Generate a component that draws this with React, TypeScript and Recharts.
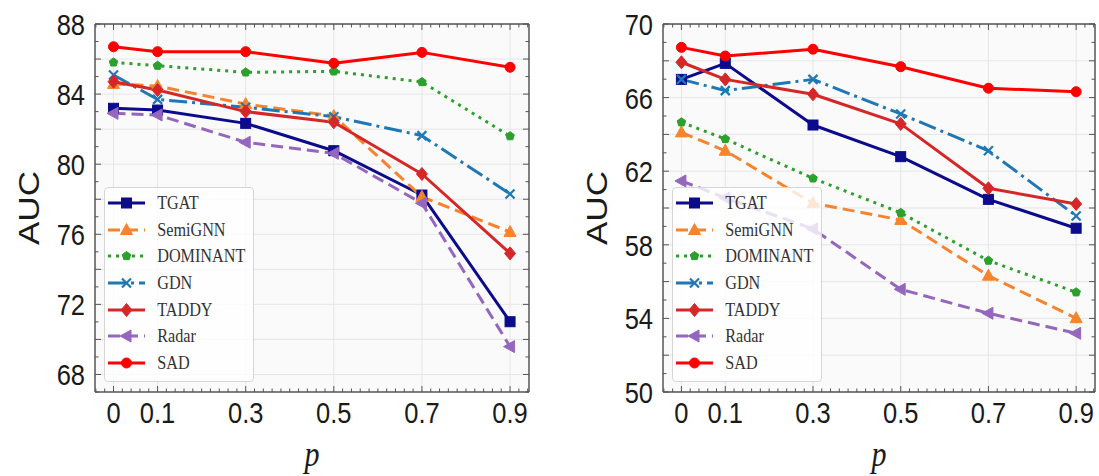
import React from 'react';
import { LineChart, Line, XAxis, YAxis, CartesianGrid, Legend } from 'recharts';

// ---------- data ----------
const pValues = [0, 0.1, 0.3, 0.5, 0.7, 0.9];
const xTickLabels = ['0', '0.1', '0.3', '0.5', '0.7', '0.9'];
const seriesNames = ['TGAT', 'SemiGNN', 'DOMINANT', 'GDN', 'TADDY', 'Radar', 'SAD'];

// left panel
const leftTGAT = [83.19, 83.09, 82.33, 80.77, 78.24, 71.01];
const leftSemiGNN = [84.58, 84.46, 83.43, 82.75, 78.14, 76.13];
const leftDOMINANT = [85.81, 85.62, 85.24, 85.3, 84.69, 81.6];
const leftGDN = [85.09, 83.7, 83.25, 82.71, 81.63, 78.3];
const leftTADDY = [84.71, 84.23, 83.0, 82.39, 79.44, 74.91];
const leftRadar = [82.9, 82.81, 81.25, 80.62, 77.77, 69.59];
const leftSAD = [86.7, 86.42, 86.42, 85.76, 86.38, 85.53];
const leftYTickLabels = [68, 72, 76, 80, 84, 88];
const leftYDomain = [67, 88];

// right panel
const rightTGAT = [66.99, 67.86, 64.51, 62.79, 60.47, 58.9];
const rightSemiGNN = [64.11, 63.11, 60.26, 59.35, 56.32, 54.01];
const rightDOMINANT = [64.66, 63.75, 61.61, 59.74, 57.14, 55.42];
const rightGDN = [66.99, 66.38, 66.99, 65.11, 63.11, 59.57];
const rightTADDY = [67.92, 66.99, 66.18, 64.57, 61.07, 60.22];
const rightRadar = [61.47, 60.55, 58.86, 55.58, 54.28, 53.19];
const rightSAD = [68.73, 68.26, 68.63, 67.68, 66.51, 66.32];
const rightYTickLabels = [50, 54, 58, 62, 66, 70];
const rightYDomain = [50, 70];

const xDomain = [-0.042, 0.943];

// ---------- styles ----------
const STYLES: Record<string, { color: string; dash?: string; marker: string }> = {
  TGAT: { color: '#0b0b8c', marker: 'square' },
  SemiGNN: { color: '#f7842c', dash: '12 6', marker: 'triUp' },
  DOMINANT: { color: '#2ca02c', dash: '3 5', marker: 'pentagon' },
  GDN: { color: '#1f77b4', dash: '18 5 3 5', marker: 'x' },
  TADDY: { color: '#d62728', marker: 'diamond' },
  Radar: { color: '#9467bd', dash: '12 6', marker: 'triLeft' },
  SAD: { color: '#ff0000', marker: 'circle' },
};

const SANS = '"Liberation Sans", Arial, Helvetica, sans-serif';
const SERIF = '"Liberation Serif", "Times New Roman", serif';
const STRETCH = 1.17;
const AXIS_COLOR = '#555';

function buildRows(series: number[][]) {
  return pValues.map((p, i) => {
    const row: any = { p };
    seriesNames.forEach((n, j) => {
      row[n] = series[j][i];
    });
    return row;
  });
}

const leftRows = buildRows([leftTGAT, leftSemiGNN, leftDOMINANT, leftGDN, leftTADDY, leftRadar, leftSAD]);
const rightRows = buildRows([rightTGAT, rightSemiGNN, rightDOMINANT, rightGDN, rightTADDY, rightRadar, rightSAD]);

// ---------- markers ----------
function Marker({ kind, cx, cy, color }: any) {
  if (cx == null || cy == null) return null;
  switch (kind) {
    case 'square':
      return <rect x={cx - 5} y={cy - 5} width={10} height={10} fill={color} stroke={color} />;
    case 'triUp':
      return <polygon points={`${cx},${cy - 6.5} ${cx + 6},${cy + 4.5} ${cx - 6},${cy + 4.5}`} fill={color} stroke={color} />;
    case 'triLeft':
      return <polygon points={`${cx - 6.5},${cy} ${cx + 4.5},${cy - 6} ${cx + 4.5},${cy + 6}`} fill={color} stroke={color} />;
    case 'diamond':
      return <polygon points={`${cx},${cy - 6.5} ${cx + 5.5},${cy} ${cx},${cy + 6.5} ${cx - 5.5},${cy}`} fill={color} stroke={color} />;
    case 'pentagon': {
      const r = 4.5;
      const pts = [0, 1, 2, 3, 4]
        .map((k) => {
          const a = -Math.PI / 2 + (k * 2 * Math.PI) / 5;
          return `${cx + r * Math.cos(a)},${cy + r * Math.sin(a)}`;
        })
        .join(' ');
      return <polygon points={pts} fill={color} stroke={color} />;
    }
    case 'x':
      return (
        <g stroke={color} strokeWidth={2.2}>
          <line x1={cx - 4.5} y1={cy - 4.5} x2={cx + 4.5} y2={cy + 4.5} />
          <line x1={cx - 4.5} y1={cy + 4.5} x2={cx + 4.5} y2={cy - 4.5} />
        </g>
      );
    default:
      return <circle cx={cx} cy={cy} r={5} fill={color} stroke={color} />;
  }
}

// ---------- ticks ----------
const XTick = (props: any) => {
  const { x, y, payload, side } = props;
  const v = payload.value;
  const idx = pValues.findIndex((m) => Math.abs(m - v) < 1e-6);
  const major = idx >= 0;
  const len = major ? 6 : 3.5;
  const dir = side === 'bottom' ? -1 : 1;
  return (
    <g>
      <line x1={x} x2={x} y1={y} y2={y + dir * len} stroke={AXIS_COLOR} strokeWidth={1} />
      {side === 'bottom' && major && (
        <text
          transform={`translate(${x} ${y + 30.5}) scale(1 ${STRETCH})`}
          textAnchor="middle"
          fontSize={25.5}
          fontFamily={SANS}
          fill="#1a1a1a"
        >
          {xTickLabels[idx]}
        </text>
      )}
    </g>
  );
};

const YTick = (props: any) => {
  const { x, y, payload, side, labels } = props;
  const v = payload.value;
  const major = Math.abs(v % 2) < 1e-6;
  const len = major ? 6 : 3.5;
  const dir = side === 'left' ? 1 : -1;
  const li = labels ? labels.indexOf(v) : -1;
  return (
    <g>
      <line x1={x} x2={x + dir * len} y1={y} y2={y} stroke={AXIS_COLOR} strokeWidth={1} />
      {side === 'left' && li >= 0 && (
        <text
          transform={`translate(${x - 10} ${y + 11}) scale(1 ${STRETCH})`}
          textAnchor="end"
          fontSize={25.5}
          fontFamily={SANS}
          fill="#1a1a1a"
        >
          {String(labels[li])}
        </text>
      )}
    </g>
  );
};

const AucLabel = (props: any) => {
  const vb = props.viewBox || {};
  const cx = vb.x + vb.width - 67;
  const cy = vb.y + vb.height / 2;
  return (
    <text
      transform={`translate(${cx} ${cy}) rotate(-90) scale(${STRETCH} 1)`}
      textAnchor="middle"
      dominantBaseline="central"
      fontSize={30}
      fontFamily={SANS}
      fill="#1a1a1a"
    >
      AUC
    </text>
  );
};

const PLabel = (props: any) => {
  const vb = props.viewBox || {};
  const cx = vb.x + vb.width / 2;
  const by = vb.y + 74;
  return (
    <text
      transform={`translate(${cx} ${by}) scale(1 ${STRETCH})`}
      textAnchor="middle"
      fontSize={30}
      fontStyle="italic"
      fontFamily={SERIF}
      fill="#1a1a1a"
    >
      p
    </text>
  );
};

// ---------- legend ----------
const ROW_GAP = 26.56;
const LegendBox = () => (
  <div
    style={{
      position: 'relative',
      width: 150,
      height: 195,
      boxSizing: 'border-box',
      background: 'rgba(255,255,255,0.8)',
      border: '1px solid #d6d6d6',
      borderRadius: 4,
    }}
  >
    {seriesNames.map((n, i) => {
      const st = STYLES[n];
      return (
        <div key={n} style={{ position: 'absolute', left: 0, top: 15.3 + i * ROW_GAP - 10, height: 20, width: '100%' }}>
          <svg width={44} height={20} style={{ position: 'absolute', left: 2.7, top: 0, overflow: 'visible' }}>
            <line x1={1} x2={38} y1={10} y2={10} stroke={st.color} strokeWidth={3} strokeDasharray={st.dash} />
            <Marker kind={st.marker} cx={19.5} cy={10} color={st.color} />
          </svg>
          <span
            style={{
              position: 'absolute',
              left: 52.7,
              top: 0,
              lineHeight: '20px',
              fontFamily: SERIF,
              fontSize: 16.2,
              color: '#333',
              transform: `scaleY(${STRETCH})`,
              transformOrigin: 'left center',
              whiteSpace: 'nowrap',
            }}
          >
            {n}
          </span>
        </div>
      );
    })}
  </div>
);

// ---------- panel ----------
function Panel({ rows, yDomain, yLabels, width, margin }: any) {
  const [y0, y1] = yDomain;
  const yMinor: number[] = [];
  for (let v = Math.ceil(y0); v <= y1; v++) yMinor.push(v);
  const yGrid = yMinor.filter((v) => v % 2 === 0);
  const xMinor: number[] = [];
  for (let k = -2; k <= 47; k++) xMinor.push((k * 2) / 100);
  const axisLine = { stroke: AXIS_COLOR, strokeWidth: 1.5 };
  const plotLeft = margin.left + 60;

  return (
    <LineChart width={width} height={476} data={rows} margin={margin}>
      <CartesianGrid
        fill="#fafafa"
        stroke="#e6e6e6"
        strokeWidth={1}
        horizontalValues={yGrid}
        verticalValues={pValues}
      />
      <XAxis
        dataKey="p"
        type="number"
        domain={xDomain}
        allowDataOverflow
        ticks={xMinor}
        interval={0}
        tickSize={0}
        tickMargin={0}
        height={60}
        axisLine={axisLine}
        tick={<XTick side="bottom" />}
        label={<PLabel />}
      />
      <XAxis
        xAxisId="top"
        orientation="top"
        dataKey="p"
        type="number"
        domain={xDomain}
        allowDataOverflow
        ticks={xMinor}
        interval={0}
        tickSize={0}
        tickMargin={0}
        height={10}
        axisLine={axisLine}
        tick={<XTick side="top" />}
      />
      <YAxis
        type="number"
        domain={yDomain}
        allowDataOverflow
        ticks={yMinor}
        interval={0}
        tickSize={0}
        tickMargin={0}
        width={60}
        axisLine={axisLine}
        tick={<YTick side="left" labels={yLabels} />}
        label={<AucLabel />}
      />
      <YAxis
        yAxisId="right"
        orientation="right"
        type="number"
        domain={yDomain}
        allowDataOverflow
        ticks={yMinor}
        interval={0}
        tickSize={0}
        tickMargin={0}
        width={4}
        axisLine={axisLine}
        tick={<YTick side="right" />}
      />
      {seriesNames.map((n) => {
        const st = STYLES[n];
        return (
          <Line
            key={n}
            dataKey={n}
            type="linear"
            stroke={st.color}
            strokeWidth={3}
            strokeDasharray={st.dash}
            strokeLinejoin="round"
            dot={(dp: any) => (
              <Marker key={`${n}-${dp.index}`} kind={st.marker} cx={dp.cx} cy={dp.cy} color={st.color} />
            )}
            activeDot={false}
            isAnimationActive={false}
            legendType="none"
          />
        );
      })}
      <Legend
        layout="vertical"
        verticalAlign="middle"
        align="center"
        wrapperStyle={{ left: plotLeft + 8.5, top: 187, width: 150, height: 195 }}
        content={() => <LegendBox />}
      />
    </LineChart>
  );
}

export default function App() {
  return (
    <div style={{ position: 'fixed', left: 0, top: 0, width: 1099, height: 476, background: '#fff' }}>
      <div style={{ position: 'absolute', left: 0, top: 0 }}>
        <Panel
          rows={leftRows}
          yDomain={leftYDomain}
          yLabels={leftYTickLabels}
          width={550}
          margin={{ top: 14, right: 17, bottom: 24, left: 35 }}
        />
      </div>
      <div style={{ position: 'absolute', left: 550, top: 0 }}>
        <Panel
          rows={rightRows}
          yDomain={rightYDomain}
          yLabels={rightYTickLabels}
          width={549}
          margin={{ top: 14, right: 0, bottom: 24, left: 53 }}
        />
      </div>
    </div>
  );
}
